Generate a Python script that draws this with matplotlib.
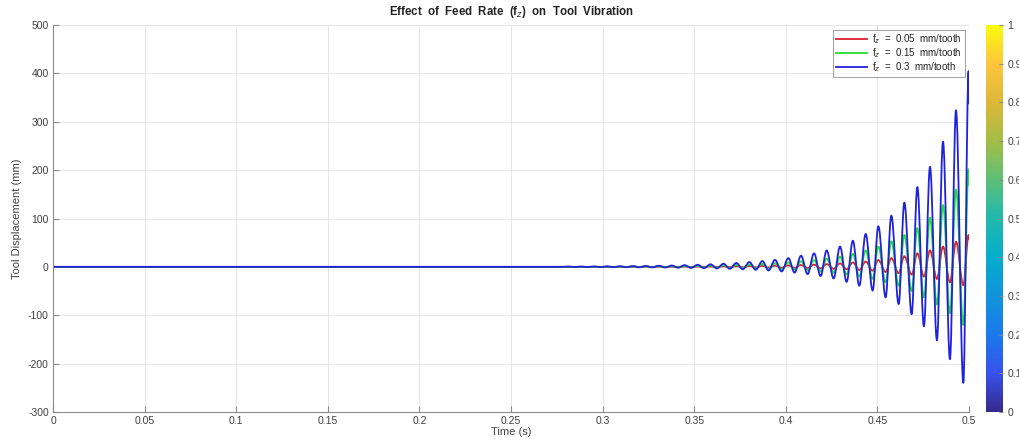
import matplotlib
matplotlib.use("Agg")
import matplotlib.pyplot as plt
import numpy as np
from matplotlib.colors import LinearSegmentedColormap, Normalize
from matplotlib.cm import ScalarMappable
from matplotlib.lines import Line2D
from matplotlib.patches import PathPatch
from matplotlib.path import Path

plt.rcParams["font.family"] = ["Liberation Sans", "DejaVu Sans"]
plt.rcParams["axes.unicode_minus"] = False

# extrema times (s), ascending, alternating peak / trough
t_ext = [
    0.2813, 0.2848, 0.2883, 0.2918, 0.2954, 0.2989, 0.3024, 0.3060, 0.3095, 0.3130,
    0.3166, 0.3201, 0.3236, 0.3271, 0.3307, 0.3342, 0.3377, 0.3412, 0.3448, 0.3483,
    0.3519, 0.3553, 0.3589, 0.3624, 0.3660, 0.3694, 0.3730, 0.3765, 0.3801, 0.3836,
    0.3872, 0.3906, 0.3941, 0.3977, 0.4014, 0.4048, 0.4083, 0.4119, 0.4154, 0.4190,
    0.4223, 0.4261, 0.4296, 0.4332, 0.4366, 0.4401, 0.4436, 0.4474, 0.4505, 0.4545,
    0.4576, 0.4616, 0.4647, 0.4687, 0.4718, 0.4754, 0.4787, 0.4825, 0.4858, 0.4896,
    0.4929, 0.4969, 0.4998,
]

disp_030 = [
    0.5, -0.3, 0.6, -0.4, 0.8, -0.5, 1.0, -0.6, 1.2, -0.7,
    1.5, -0.9, 1.9, -1.1, 2.3, -1.4, 2.8, -1.7, 3.5, -2.1,
    4.3, -2.6, 5.3, -3.2, 6.5, -4.0, 8.0, -5.0, 10.0, -6.0,
    12.0, -7.5, 14.5, -9.5, 18.0, -12.0, 23.0, -15.0, 28.0, -19.0,
    34.0, -24.0, 42.0, -31.0, 54.0, -39.0, 68.0, -49.0, 84.0, -63.0,
    106.0, -77.0, 133.0, -98.0, 165.0, -123.0, 207.0, -152.0, 259.0, -191.0,
    324.0, -240.0, 405.0,
]

disp_015 = [
    0.25, -0.15, 0.3, -0.2, 0.4, -0.25, 0.5, -0.3, 0.6, -0.35,
    0.75, -0.45, 0.95, -0.55, 1.15, -0.7, 1.4, -0.85, 1.75, -1.05,
    2.15, -1.3, 2.65, -1.6, 3.25, -2.0, 4.0, -2.5, 5.0, -3.0,
    6.0, -3.8, 7.3, -4.8, 9.0, -6.0, 11.5, -7.5, 14.0, -9.5,
    17.0, -12.0, 21.0, -15.5, 27.0, -20.0, 34.0, -25.0, 42.0, -32.0,
    53.0, -39.0, 66.0, -50.0, 80.0, -63.0, 102.0, -78.0, 128.0, -96.0,
    160.0, -120.0, 202.0,
]

disp_005 = [
    0.08, -0.05, 0.1, -0.07, 0.13, -0.08, 0.17, -0.1, 0.2, -0.12,
    0.25, -0.15, 0.32, -0.18, 0.38, -0.23, 0.47, -0.28, 0.58, -0.35,
    0.72, -0.43, 0.88, -0.53, 1.1, -0.67, 1.3, -0.83, 1.7, -1.0,
    2.0, -1.25, 2.4, -1.6, 3.0, -2.0, 3.8, -2.5, 4.7, -3.2,
    5.7, -4.0, 7.0, -5.0, 9.0, -6.5, 11.0, -8.0, 14.0, -10.5,
    18.0, -13.0, 22.0, -16.0, 28.0, -20.0, 34.0, -25.0, 42.0, -32.0,
    52.0, -38.0, 66.0,
]

# flat start and final sample at t = 0.5
t_start = [0.0, 0.278]
t_end = 0.5
end_030, end_015, end_005 = 338.0, 170.0, 57.0

labels = ["f$_z$  =  0.05  mm/tooth", "f$_z$  =  0.15  mm/tooth", "f$_z$  =  0.3  mm/tooth"]
colors = ["#dd1f2a", "#22dd33", "#1f22dd"]

x_ticks = [0, 0.05, 0.1, 0.15, 0.2, 0.25, 0.3, 0.35, 0.4, 0.45, 0.5]
x_ticklabels = ["0", "0.05", "0.1", "0.15", "0.2", "0.25", "0.3", "0.35", "0.4", "0.45", "0.5"]
y_ticks = [-300, -200, -100, 0, 100, 200, 300, 400, 500]
cb_ticks = [0, 0.1, 0.2, 0.3, 0.4, 0.5, 0.6, 0.7, 0.8, 0.9, 1]
cb_ticklabels = ["0", "0.1", "0.2", "0.3", "0.4", "0.5", "0.6", "0.7", "0.8", "0.9", "1"]

parula = LinearSegmentedColormap.from_list("parula_like", [
    (0.00, (0.21, 0.17, 0.55)),
    (0.10, (0.22, 0.32, 0.93)),
    (0.20, (0.10, 0.48, 0.92)),
    (0.30, (0.07, 0.58, 0.86)),
    (0.40, (0.02, 0.68, 0.80)),
    (0.50, (0.13, 0.72, 0.68)),
    (0.60, (0.36, 0.75, 0.47)),
    (0.70, (0.64, 0.74, 0.27)),
    (0.80, (0.86, 0.72, 0.22)),
    (0.90, (0.99, 0.77, 0.24)),
    (1.00, (0.98, 0.98, 0.05)),
])

axis_gray = "#8a8a8a"
text_gray = "#404040"
fs = 7.5
lw = 1.3


def smooth_path(ts, ys):
    """Curve through extrema with flat tangents at each one (cubic Bezier)."""
    verts = [(ts[0], ys[0])]
    codes = [Path.MOVETO]
    for i in range(1, len(ts)):
        t0, y0, t1, y1 = ts[i - 1], ys[i - 1], ts[i], ys[i]
        dt = t1 - t0
        verts += [(t0 + 0.36 * dt, y0), (t1 - 0.36 * dt, y1), (t1, y1)]
        codes += [Path.CURVE4] * 3
    return Path(verts, codes)


fig = plt.figure(figsize=(10.2, 4.41), dpi=100)
ax = fig.add_axes([0.052, 0.066, 0.898, 0.877])

series = [(disp_005, end_005), (disp_015, end_015), (disp_030, end_030)]
handles = []
for (vals, end_val), col, lab in zip(series, colors, labels):
    t = t_start + t_ext + [t_end]
    y = [0.0, 0.0] + vals + [end_val]
    ax.add_patch(PathPatch(smooth_path(t, y), fill=False, edgecolor=col, lw=lw,
                           capstyle="round", joinstyle="round"))
    handles.append(Line2D([], [], color=col, lw=lw, label=lab))

ax.set_xlim(0, 0.5)
ax.set_ylim(-300, 500)
ax.set_xticks(x_ticks)
ax.set_xticklabels(x_ticklabels)
ax.set_yticks(y_ticks)
ax.tick_params(direction="in", length=4, width=0.8, color=axis_gray,
               labelsize=fs, labelcolor=text_gray, pad=3)
for side in ["top", "right"]:
    ax.spines[side].set_visible(False)
for side in ["left", "bottom"]:
    ax.spines[side].set_color(axis_gray)
    ax.spines[side].set_linewidth(0.8)
ax.grid(True, color="#e6e6e6", lw=0.7)
ax.set_axisbelow(True)

ax.set_title("Effect  of  Feed  Rate  (f$_z$)  on  Tool  Vibration",
             fontsize=8.3, fontweight="bold", color="#222222", pad=7)
ax.set_xlabel("Time (s)", fontsize=fs + 0.5, color=text_gray, labelpad=1)
ax.set_ylabel("Tool Displacement (mm)", fontsize=fs + 0.5, color=text_gray, labelpad=4)

leg = ax.legend(handles=handles, loc="upper right", fontsize=fs - 0.5, frameon=True,
                fancybox=False, borderaxespad=0.45, handlelength=3.2, handletextpad=0.5,
                borderpad=0.3, labelspacing=0.02)
leg.get_frame().set_edgecolor("#8f8f8f")
leg.get_frame().set_linewidth(0.8)
for txt in leg.get_texts():
    txt.set_color("#222222")

cax = fig.add_axes([0.9667, 0.066, 0.0167, 0.877])
sm = ScalarMappable(norm=Normalize(0, 1), cmap=parula)
cb = fig.colorbar(sm, cax=cax, ticks=cb_ticks)
cb.ax.set_yticklabels(cb_ticklabels)
cb.outline.set_visible(False)
cb.ax.tick_params(direction="in", length=3, width=0.8, color=axis_gray,
                  labelsize=fs, labelcolor=text_gray, pad=3)

fig.savefig("out.png", dpi=100, facecolor="white")
